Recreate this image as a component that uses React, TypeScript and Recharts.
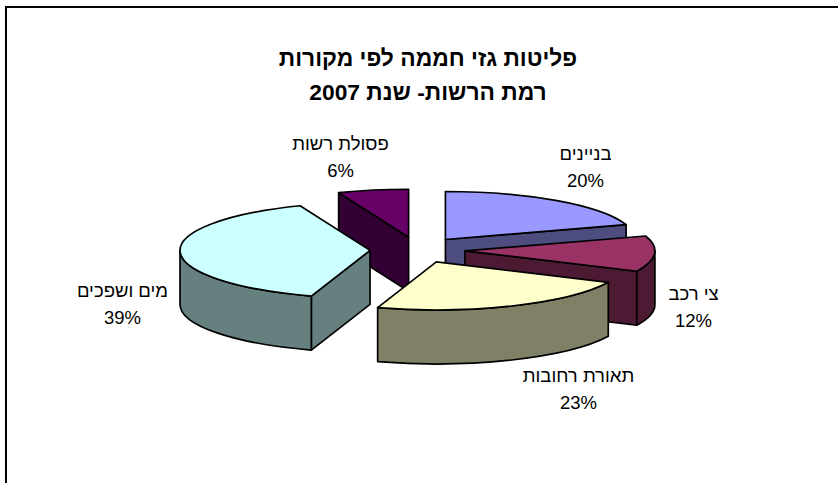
import React from 'react';
import { PieChart, Pie } from 'recharts';

// Painted back to front, so the circle starts at the last slice of the source order.
const categories = ['פסולת רשות', 'בניינים', 'צי רכב', 'תאורת רחובות', 'מים ושפכים'];
const shares = [6, 20, 12, 23, 39];
const topColors = ['#660066', '#9999FF', '#993366', '#FFFFCC', '#CCFFFF'];
const sideColors = ['#330033', '#4D4D80', '#4D1A33', '#808066', '#668080'];
const titleLines = ['פליטות גזי חממה לפי מקורות', 'רמת הרשות- שנת 2007'];
const labelOffsets = [
  [-77, -93],
  [168, -83],
  [276, 57],
  [161, 139],
  [-295, 54],
];

const data = categories.map((name, i) => ({
  name,
  value: shares[i],
  fill: topColors[i],
  side: sideColors[i],
  offset: labelOffsets[i],
}));

const FONT = '"Liberation Sans", Arial, sans-serif';
const CX = 417.5;
const CY = 250;
const RX = 190;
const RY = 48;
const DEPTH = 54;
const EXPLODE_X = 47.5;
const EXPLODE_Y = 13;
const rad = (d: number) => (d * Math.PI) / 180;

function Slice3D(props: any) {
  const { startAngle, endAngle, midAngle, cx, cy, outerRadius, fill, payload } = props;
  const side = payload?.side ?? props.side;
  const squash = RY / outerRadius;
  let a = 90 - startAngle;
  let b = 90 - endAngle;
  if (a < -0.001) {
    a += 360;
    b += 360;
  }
  const mid = 90 - midAngle;
  const ox = cx + EXPLODE_X * Math.sin(rad(mid));
  const oy = cy - EXPLODE_Y * Math.cos(rad(mid));
  const pt = (t: number, d = 0): [number, number] => [
    ox + outerRadius * Math.sin(rad(t)),
    oy - outerRadius * squash * Math.cos(rad(t)) + d,
  ];
  const arc = (to: [number, number], from: number, end: number, sweep: number) =>
    `A${outerRadius} ${RY} 0 ${Math.abs(end - from) > 180 ? 1 : 0} ${sweep} ${to[0]} ${to[1]}`;
  const common = { stroke: '#000', strokeWidth: 1.7, strokeLinejoin: 'round' as const };

  const walls: React.ReactNode[] = [];
  const radial = (t: number, key: string) => {
    const p = pt(t);
    const q = pt(t, DEPTH);
    walls.push(
      <path
        key={key}
        d={`M${ox} ${oy}L${p[0]} ${p[1]}L${q[0]} ${q[1]}L${ox} ${oy + DEPTH}Z`}
        fill={side}
        {...common}
      />,
    );
  };
  if (Math.sin(rad(a)) < -0.001) radial(a, 'start');
  if (Math.sin(rad(b)) > 0.001) radial(b, 'end');
  const w1 = Math.max(a, 90);
  const w2 = Math.min(b, 270);
  if (w2 > w1) {
    const p1 = pt(w1);
    const p2 = pt(w2);
    const q1 = pt(w1, DEPTH);
    const q2 = pt(w2, DEPTH);
    walls.push(
      <path
        key="outer"
        d={`M${p1[0]} ${p1[1]}${arc(p2, w1, w2, 1)}L${q2[0]} ${q2[1]}${arc(q1, w2, w1, 0)}Z`}
        fill={side}
        {...common}
      />,
    );
  }
  const s = pt(a);
  const e = pt(b);
  return (
    <g>
      {walls}
      <path d={`M${ox} ${oy}L${s[0]} ${s[1]}${arc(e, a, b, 1)}Z`} fill={fill} {...common} />
    </g>
  );
}

function SliceLabel(props: any) {
  const { cx, cy, payload, value } = props;
  const off = payload?.offset ?? props.offset;
  const x = cx + off[0];
  const y = cy + off[1];
  return (
    <g fontFamily={FONT} fontSize={18.5} fill="#000" textAnchor="middle">
      <text x={x} y={y - 7} style={{ direction: 'rtl' }}>
        {payload?.name ?? props.name}
      </text>
      <text x={x} y={y + 20}>
        {`${value}%`}
      </text>
    </g>
  );
}

export default function App() {
  return (
    <div style={{ position: 'absolute', left: 0, top: 0, width: 838, height: 483, background: '#fff' }}>
      <PieChart width={838} height={483} margin={{ top: 0, right: 0, bottom: 0, left: 0 }}>
        <line x1={6} y1={7} x2={838} y2={7} stroke="#000" strokeWidth={2} />
        <line x1={6} y1={6} x2={6} y2={483} stroke="#000" strokeWidth={2} />
        {titleLines.map((t, i) => (
          <text
            key={t}
            x={428}
            y={66 + i * 34}
            textAnchor="middle"
            fontFamily={FONT}
            fontSize={22.8}
            fontWeight="bold"
            fill="#000"
            style={{ direction: 'rtl' }}
          >
            {t}
          </text>
        ))}
        <Pie
          data={data}
          dataKey="value"
          nameKey="name"
          cx={CX}
          cy={CY}
          innerRadius={0}
          outerRadius={RX}
          startAngle={111.6}
          endAngle={-248.4}
          paddingAngle={0}
          stroke="none"
          shape={Slice3D}
          label={SliceLabel}
          labelLine={false}
          isAnimationActive={false}
        />
      </PieChart>
    </div>
  );
}
